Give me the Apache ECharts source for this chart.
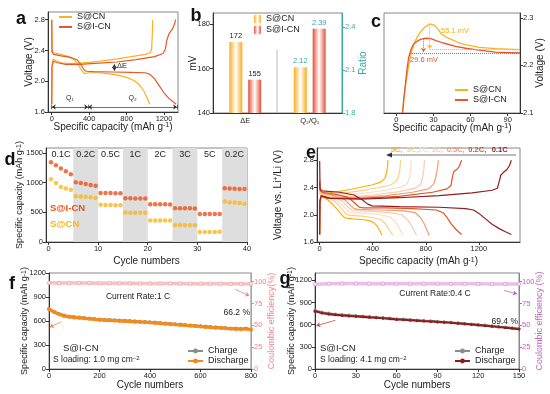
<!DOCTYPE html>
<html><head><meta charset="utf-8">
<script src="https://cdn.jsdelivr.net/npm/echarts@6/dist/echarts.min.js"></script>
<style>html,body{margin:0;padding:0;background:#fff}#c{width:550px;height:394px}</style>
</head><body><div id="c"></div>
<script>
const FONT = "'Liberation Sans', Arial, Helvetica, sans-serif";
const CN = '#F8B31C', ICN = '#E9562A';

// ---------- Panel a : charge/discharge profiles ----------
const aCNDischarge = [[0,2.8],[3,2.40],[20,2.37],[100,2.35],[180,2.32],[240,2.28],[280,2.22],[320,2.14],[350,2.10],[370,2.09],[400,2.11],[500,2.11],[600,2.10],[700,2.08],[800,2.05],[880,2.01],[940,1.95],[990,1.86],[1020,1.78],[1048,1.70]];
const aCNCharge = [[0,1.7],[3,2.2],[15,2.29],[40,2.27],[100,2.24],[200,2.23],[300,2.235],[400,2.245],[500,2.26],[600,2.275],[700,2.29],[800,2.31],[900,2.33],[1000,2.35],[1055,2.37],[1068,2.42],[1075,2.6],[1080,2.8]];
const aICNDischarge = [[0,2.8],[3,2.38],[20,2.35],[100,2.33],[200,2.31],[270,2.28],[310,2.22],[345,2.15],[370,2.13],[450,2.125],[650,2.12],[850,2.115],[1000,2.11],[1050,2.09],[1100,2.03],[1150,1.94],[1200,1.85],[1250,1.78],[1300,1.73],[1330,1.70]];
const aICNCharge = [[0,1.7],[3,2.2],[20,2.26],[60,2.24],[150,2.22],[300,2.22],[500,2.235],[700,2.25],[900,2.28],[1100,2.32],[1190,2.36],[1215,2.42],[1232,2.54],[1255,2.62],[1290,2.68],[1312,2.74],[1325,2.8]];
const aXTicks = [0,400,800,1200];
const aYTicks = [1.6,2.0,2.4,2.8];

// ---------- Panel b : bars ----------
const bCategories = ['ΔE','Q₂/Q₁'];
const bDeltaE = [172,155];     // S@CN, S@I-CN (mV)
const bRatio = [2.12,2.39];    // S@CN, S@I-CN
const bLeftTicks = [140,160,180];
const bRightTicks = [1.8,2.1,2.4];

// ---------- Panel c : nucleation overpotential ----------
const cCN = [[5,2.1],[7,2.15],[8.5,2.176],[10,2.2],[12.5,2.231],[15,2.25],[17.8,2.263],[20,2.272],[23,2.28],[27,2.287],[31,2.284],[34,2.275],[36.4,2.266],[40,2.26],[43,2.256],[50,2.248],[55,2.244],[67,2.238],[80,2.235],[100,2.233]];
const cICN = [[5,2.1],[6,2.13],[7.4,2.162],[8.5,2.19],[10,2.217],[12,2.235],[14,2.245],[17,2.251],[20,2.255],[24,2.257],[28,2.256],[32,2.252],[38,2.247],[48,2.24],[56,2.236],[64,2.233],[80,2.228],[100,2.226]];
const cXTicks = [0,30,60,90];
const cYTicks = [2.1,2.2,2.3];

// ---------- Panel d : rate capability ----------
const dICN = [1340,1290,1235,1190,1140, 1005,990,975,960,945, 825,825,822,820,818, 735,735,733,733,732, 635,635,633,633,632, 568,567,566,566,565, 470,470,470,470,472, 905,898,895,892,890];
const dCN  = [1055,990,925,900,880, 770,765,760,752,740, 625,622,620,618,617, 495,493,492,492,491, 360,362,362,363,362, 285,284,283,283,282, 168,168,168,170,172, 680,670,662,655,645];
const dRateBounds = [0,5,10,15,20,25,30,35,40];
const dRateLabels = ['0.1C','0.2C','0.5C','1C','2C','3C','5C','0.2C'];
const dXTicks = [0,10,20,30,40];
const dYTicks = [0,500,1000,1500];

// ---------- Panel e : profiles at different rates ----------
const eRates = ['0.1C','0.2C','0.5C','1C','2C','3C','5C'];
const e01Discharge = [[0,2.79],[3,2.38],[20,2.35],[150,2.33],[260,2.29],[320,2.22],[360,2.16],[395,2.13],[600,2.12],[900,2.11],[1100,2.09],[1160,2.07],[1200,2.02],[1250,1.94],[1300,1.86],[1350,1.80],[1400,1.75],[1445,1.71]];
const e01Charge = [[0,1.71],[2,2.2],[12,2.28],[80,2.24],[300,2.23],[600,2.25],[900,2.28],[1150,2.32],[1300,2.36],[1340,2.39],[1355,2.5],[1365,2.58],[1390,2.63],[1410,2.66],[1430,2.72],[1445,2.8]];
const e02Discharge = [[0,2.5],[3,2.36],[20,2.33],[120,2.30],[210,2.26],[260,2.18],[300,2.11],[330,2.10],[500,2.10],[700,2.09],[880,2.07],[930,2.03],[960,1.96],[990,1.87],[1030,1.78],[1070,1.71]];
const e02Charge = [[0,1.71],[2,2.2],[10,2.27],[60,2.24],[300,2.24],[600,2.27],[850,2.33],[960,2.38],[990,2.43],[1000,2.55],[1010,2.63],[1030,2.66],[1050,2.7],[1070,2.8]];
const e05Discharge = [[0,2.48],[3,2.35],[20,2.32],[110,2.28],[190,2.22],[230,2.14],[260,2.09],[290,2.08],[450,2.07],[620,2.06],[720,2.03],[760,1.96],[790,1.86],[810,1.77],[825,1.70]];
const e05Charge = [[0,1.71],[2,2.2],[10,2.27],[60,2.25],[250,2.25],[500,2.28],[700,2.33],[820,2.38],[860,2.45],[875,2.55],[885,2.65],[895,2.8]];
const e1Discharge = [[0,2.46],[3,2.34],[20,2.31],[100,2.27],[170,2.2],[210,2.12],[240,2.07],[270,2.06],[400,2.05],[530,2.03],[620,2.0],[660,1.93],[690,1.85],[712,1.77],[730,1.70]];
const e1Charge = [[0,1.71],[2,2.2],[10,2.27],[50,2.26],[200,2.26],[400,2.29],[600,2.34],[720,2.39],[760,2.44],[776,2.54],[785,2.66],[790,2.8]];
const e2Discharge = [[0,2.45],[3,2.33],[20,2.30],[90,2.25],[150,2.18],[190,2.10],[220,2.04],[250,2.03],[350,2.02],[460,2.0],[530,1.97],[565,1.91],[590,1.84],[612,1.76],[630,1.70]];
const e2Charge = [[0,1.71],[2,2.2],[10,2.28],[50,2.27],[150,2.28],[350,2.32],[500,2.36],[620,2.41],[660,2.46],[678,2.55],[686,2.67],[690,2.8]];
const e3Discharge = [[0,2.44],[3,2.32],[20,2.29],[80,2.24],[130,2.17],[170,2.08],[200,2.01],[230,1.99],[320,1.98],[400,1.96],[460,1.93],[490,1.88],[515,1.81],[535,1.75],[550,1.70]];
const e3Charge = [[0,1.71],[2,2.2],[10,2.29],[50,2.29],[150,2.31],[300,2.35],[450,2.40],[540,2.44],[575,2.49],[595,2.56],[605,2.67],[610,2.8]];
const e5Discharge = [[0,2.42],[3,2.30],[20,2.27],[60,2.22],[100,2.15],[140,2.06],[170,1.99],[195,1.95],[250,1.94],[320,1.93],[380,1.91],[410,1.88],[430,1.84],[450,1.78],[470,1.70]];
const e5Charge = [[0,1.71],[2,2.2],[10,2.3],[40,2.31],[100,2.33],[200,2.36],[300,2.4],[400,2.44],[460,2.48],[490,2.53],[505,2.62],[512,2.72],[515,2.8]];
const eXTicks = [0,400,800,1200];
const eYTicks = [1.6,2.0,2.4,2.8];

// ---------- Panel f : long cycling 1 C ----------
const fDischarge = [748,712,684,664,652,645,640,633,628,621,615,612,609,605,601,598,595,592,588,585,581,576,571,566,561,556,551,546,541,536,531,526,521,517,513,508,504,501,497,503,491];
const fCharge    = [760,722,694,674,662,655,650,643,638,631,625,622,619,615,611,608,605,602,598,595,591,586,581,576,571,566,561,556,551,546,541,536,531,527,523,518,514,511,507,514,500];
const fCE = [98.8,98.6,98.5,98.5,98.4,98.3,98.3,98.2,98.2,98.1,98.0,98.0,97.9,97.9,97.8,97.8,97.7,97.7,97.6,97.6,97.5];
const fStep = 20, fCEStep = 40;

// ---------- Panel g : long cycling 0.4 C ----------
const gDischarge = [782,758,744,734,726,719,713,707,700,694,687,680,672,667,661,655,649,644,638,632,626,619,611,603,595,587,578,569,560,551,541];
const gCharge    = [800,772,757,746,737,730,723,717,710,703,696,689,681,676,670,664,658,652,646,640,634,627,619,611,603,595,586,577,568,559,549];
const gCE = [97.2,97.8,97.9,97.9,97.8,97.8,97.8,97.7,97.7,97.7,97.6,97.6,97.6,97.5,97.5,97.5];
const gStep = 5, gCEStep = 10;

// ================= styles =================
const E_COLORS = ['#931D1D','#E2531E','#F29B78','#F9C9B3','#FCDCC4','#F9D27E','#F6B10F'];
const TEAL = '#3AA7A0', PINK = '#F08585', PURPLE = '#C45EC4';
const SUP = {sup:{fontSize:7, verticalAlign:'top', fontFamily:FONT}};

function baseAxis(){
  return {
    type:'value', nameLocation:'middle', nameMoveOverlap:false,
    axisLine:{show:true, onZero:false, lineStyle:{color:'#333', width:1}},
    axisTick:{show:true, length:3, lineStyle:{color:'#333'}},
    axisLabel:{fontSize:7.5, color:'#222', margin:3, fontFamily:FONT, formatter:v => String(v)},
    splitLine:{show:false},
    nameTextStyle:{fontSize:10, color:'#222', fontFamily:FONT, rich:SUP}
  };
}
function ax(extra){
  const b = baseAxis();
  for (const k in extra){
    if (b[k] && typeof b[k]==='object' && !Array.isArray(b[k]) && extra[k] && typeof extra[k]==='object' && !Array.isArray(extra[k]))
      b[k] = Object.assign({}, b[k], extra[k]);
    else b[k] = extra[k];
  }
  return b;
}
const f1 = v => v.toFixed(1);
const pairs = (step, arr) => arr.map((v,i)=>[i*step, v]);
function ln(name, xi, yi, data, color, width, extra){
  return Object.assign({type:'line', name, xAxisIndex:xi, yAxisIndex:yi, data, symbol:'none', showSymbol:false,
    lineStyle:{color, width}, itemStyle:{color}, silent:true, animation:false}, extra||{});
}
function grad(c){
  return {type:'linear', x:0, y:0, x2:1, y2:0, colorStops:[{offset:0,color:c},{offset:0.5,color:'#ffffff'},{offset:1,color:c}]};
}
function T(x,y,text,opts){
  return {type:'text', x, y, silent:true, z:100,
    style:Object.assign({text, fill:'#222', fontSize:9, fontFamily:FONT, align:'left', verticalAlign:'middle'}, opts||{})};
}
const legendFmt = n => n.replace(/_.*$/, '');

// ================= option =================
const grids = [
  {left:48, top:12, width:130, height:100},
  {left:213, top:13, width:129, height:100},
  {left:384, top:13, width:136, height:100},
  {left:46, top:148, width:201, height:94},
  {left:317, top:148, width:203, height:94},
  {left:49, top:273, width:202, height:96},
  {left:315, top:273, width:204, height:96}
].map(g => Object.assign({show:true, borderColor:'#888', borderWidth:1, containLabel:false}, g));

const xAxes = [
  ax({gridIndex:0, min:-40, max:1350, axisLabel:{customValues:aXTicks}, axisTick:{customValues:aXTicks},
      name:'Specific capacity (mAh g{sup|-1})', nameGap:10}),
  ax({gridIndex:1, type:'category', data:bCategories, axisTick:{show:false}, axisLabel:{margin:4, formatter:null}}),
  {gridIndex:1, type:'category', data:bCategories, show:false},
  ax({gridIndex:2, min:-10, max:100, axisLabel:{customValues:cXTicks}, axisTick:{customValues:cXTicks},
      name:'Specific capacity (mAh g{sup|-1})', nameGap:10}),
  ax({gridIndex:3, min:-0.5, max:40, axisLabel:{customValues:dXTicks}, axisTick:{customValues:dXTicks},
      name:'Cycle numbers', nameGap:14.5}),
  ax({gridIndex:4, min:-20, max:1510, axisLabel:{customValues:eXTicks}, axisTick:{customValues:eXTicks},
      name:'Specific capacity (mAh g{sup|-1})', nameGap:14.5}),
  ax({gridIndex:5, min:0, max:800, interval:200, name:'Cycle numbers', nameGap:11.5}),
  ax({gridIndex:6, min:0, max:150, interval:30, name:'Cycle numbers', nameGap:11.5})
];

const yAxes = [
  ax({gridIndex:0, min:1.6, max:2.9, axisLabel:{customValues:aYTicks, formatter:f1}, axisTick:{customValues:aYTicks},
      name:'Voltage (V)', nameGap:14, nameRotate:90}),
  ax({gridIndex:1, min:140, max:185, axisLabel:{customValues:bLeftTicks}, axisTick:{customValues:bLeftTicks},
      name:'mV', nameGap:15, nameRotate:90}),
  ax({gridIndex:1, position:'right', min:1.8, max:2.5, axisLabel:{customValues:bRightTicks, formatter:f1, color:TEAL},
      axisTick:{customValues:bRightTicks, lineStyle:{color:TEAL}}, axisLine:{lineStyle:{color:TEAL, width:1}},
      name:'Ratio', nameGap:16, nameRotate:90, nameTextStyle:{color:TEAL}}),
  ax({gridIndex:2, position:'right', min:2.1, max:2.31, axisLabel:{customValues:cYTicks, formatter:f1}, axisTick:{customValues:cYTicks},
      name:'Voltage (V)', nameGap:15, nameRotate:90}),
  ax({gridIndex:3, min:0, max:1580, axisLabel:{customValues:dYTicks}, axisTick:{customValues:dYTicks},
      name:'Specific capacity (mAh g{sup|-1})', nameGap:21.5, nameRotate:90, nameTextStyle:{fontSize:9}}),
  ax({gridIndex:4, min:1.6, max:2.98, axisLabel:{customValues:eYTicks, formatter:f1}, axisTick:{customValues:eYTicks},
      name:'Voltage vs. Li{sup|+}/Li (V)', nameGap:34, nameRotate:90}),
  ax({gridIndex:5, min:0, max:1200, interval:300, name:'Specific capacity (mAh g{sup|-1})', nameGap:19.5, nameRotate:90, nameTextStyle:{fontSize:9}}),
  ax({gridIndex:5, position:'right', min:0, max:110, axisLabel:{customValues:[0,25,50,75,100], color:PINK},
      axisTick:{customValues:[0,25,50,75,100], lineStyle:{color:PINK}}, axisLine:{lineStyle:{color:PINK, width:1}},
      name:'Coulombic efficiency(%)', nameGap:16, nameRotate:90, nameTextStyle:{color:PINK, fontSize:9}}),
  ax({gridIndex:6, min:0, max:1300, axisLabel:{customValues:[0,300,600,900,1200]}, axisTick:{customValues:[0,300,600,900,1200]},
      name:'Specific capacity (mAh g{sup|-1})', nameGap:19, nameRotate:90, nameTextStyle:{fontSize:9}}),
  ax({gridIndex:6, position:'right', min:0, max:110, axisLabel:{customValues:[0,25,50,75,100], color:PURPLE},
      axisTick:{customValues:[0,25,50,75,100], lineStyle:{color:PURPLE}}, axisLine:{lineStyle:{color:PURPLE, width:1}},
      name:'Coulombic efficiency (%)', nameGap:16.5, nameRotate:90, nameTextStyle:{color:PURPLE, fontSize:9}})
];

const series = [];
// ---- a
series.push(ln('S@CN_a',0,0,aCNDischarge,CN,1.2));
series.push(ln('S@CN_a',0,0,aCNCharge,CN,1.2));
series.push(ln('S@I-CN_a',0,0,aICNDischarge,ICN,1.2,{
  markLine:{silent:true, symbol:['none','none'], symbolSize:4, animation:false,
    lineStyle:{color:'#333', width:0.7, type:'solid'},
    label:{show:false},
    data:[
      [{coord:[0,1.665], symbol:'arrow', label:{show:true, position:'middle', formatter:'Q₁', fontSize:7, color:'#333', backgroundColor:'#fff', padding:[0,1]}}, {coord:[390,1.665], symbol:'arrow'}],
      [{coord:[390,1.665], symbol:'arrow', label:{show:true, position:'middle', formatter:'Q₂', fontSize:7, color:'#333', backgroundColor:'#fff', padding:[0,1]}}, {coord:[1340,1.665], symbol:'arrow'}],
      [{coord:[0,1.635]},{coord:[0,1.695]}],
      [{coord:[390,1.635]},{coord:[390,1.695]}],
      [{coord:[1340,1.635]},{coord:[1340,1.695]}],
      [{coord:[670,2.135], symbol:'arrow'},{coord:[670,2.222], symbol:'arrow'}]
    ]}
}));
series.push(ln('S@I-CN_a',0,0,aICNCharge,ICN,1.2));
// ---- b
function barS(name, xi, yi, data, color, labColor){
  return {type:'bar', name, xAxisIndex:xi, yAxisIndex:yi, data, barWidth:13, barGap:'45%', silent:true,
    itemStyle:{color:grad(color)},
    label:{show:true, position:'top', distance:2, fontSize:7.5, color:labColor, fontFamily:FONT}};
}
series.push(barS('S@CN_b',1,1,[bDeltaE[0],'-'],'#F7AE22','#222'));
series.push(barS('S@I-CN_b',1,1,[bDeltaE[1],'-'],'#E4503A','#222'));
series.push(barS('S@CN_b',2,2,['-',bRatio[0]],'#F7AE22',TEAL));
series.push(barS('S@I-CN_b',2,2,['-',bRatio[1]],'#E4503A',TEAL));
// ---- c
series.push(ln('S@CN_c',3,3,cCN,CN,1.3,{z:3,
  markLine:{silent:true, symbol:['none','none'], symbolSize:4, animation:false,
    lineStyle:{color:CN, width:1, type:'dotted'}, label:{show:false},
    data:[[{coord:[27,2.233]},{coord:[100,2.233]}],[{coord:[27,2.286]},{coord:[27,2.235], symbol:'arrow'}]]}}));
series.push(ln('S@I-CN_c',3,3,cICN,ICN,1.3,{
  markLine:{silent:true, symbol:['none','none'], symbolSize:4, animation:false,
    lineStyle:{color:ICN, width:1, type:'dotted'}, label:{show:false},
    data:[[{coord:[11,2.226]},{coord:[100,2.226]}],[{coord:[22,2.256]},{coord:[22,2.228], symbol:'arrow'}]]}}));
// ---- d
const dAreas = dRateLabels.map((lab,i)=>[
  {xAxis:dRateBounds[i], name:lab, itemStyle:{color: i%2 ? '#DEDEDE' : 'rgba(255,255,255,0)'}},
  {xAxis:dRateBounds[i+1]}]);
series.push({type:'scatter', name:'S@I-CN_d', xAxisIndex:4, yAxisIndex:4, silent:true,
  data:dICN.map((v,i)=>[i+0.5, v]), symbolSize:4.5, itemStyle:{color:'#E8521C'},
  markArea:{silent:true, label:{show:true, position:'insideTop', distance:2, fontSize:9, color:'#222', fontFamily:FONT}, data:dAreas}});
series.push({type:'scatter', name:'S@CN_d', xAxisIndex:4, yAxisIndex:4, silent:true,
  data:dCN.map((v,i)=>[i+0.5, v]), symbolSize:4.5, itemStyle:{color:'#F9B520'}});
// ---- e
const eDis = [e01Discharge,e02Discharge,e05Discharge,e1Discharge,e2Discharge,e3Discharge,e5Discharge];
const eChg = [e01Charge,e02Charge,e05Charge,e1Charge,e2Charge,e3Charge,e5Charge];
for (let i=eRates.length-1;i>=0;i--){
  series.push(ln('e'+eRates[i]+'d',5,5,eDis[i],E_COLORS[i],1.2));
  series.push(ln('e'+eRates[i]+'c',5,5,eChg[i],E_COLORS[i],1.2));
}
// ---- f
series.push({type:'line', name:'Charge_f', xAxisIndex:6, yAxisIndex:6, data:pairs(fStep,fCharge), silent:true,
  symbol:'circle', symbolSize:3, showSymbol:true, lineStyle:{color:'#8C8C8C', width:1.5}, itemStyle:{color:'#8C8C8C'}});
series.push({type:'line', name:'Discharge_f', xAxisIndex:6, yAxisIndex:6, data:pairs(fStep,fDischarge), silent:true,
  symbol:'circle', symbolSize:4, showSymbol:true, lineStyle:{color:'#F28A1E', width:3.2}, itemStyle:{color:'#F28A1E'},
  markLine:{silent:true, symbol:['none','arrow'], symbolSize:4, animation:false, label:{show:false},
    lineStyle:{color:'#F08A4B', width:0.8, type:'solid', curveness:0.3},
    data:[[{coord:[50,590]},{coord:[3,524]}]]}});
series.push({type:'line', name:'CE_f', xAxisIndex:6, yAxisIndex:7, data:pairs(fCEStep,fCE), silent:true,
  symbol:'circle', symbolSize:3.5, showSymbol:true, lineStyle:{color:'#F9C2C2', width:3.5}, itemStyle:{color:'#FDE6E6', borderColor:'#F3A0A0', borderWidth:0.8},
  markLine:{silent:true, symbol:['none','arrow'], symbolSize:4, animation:false, label:{show:false},
    lineStyle:{color:PINK, width:0.8, type:'solid', curveness:-0.3},
    data:[[{coord:[737,91.3]},{coord:[793,84]}]]}});
// ---- g
series.push({type:'line', name:'Charge_g', xAxisIndex:7, yAxisIndex:8, data:pairs(gStep,gCharge), silent:true,
  symbol:'circle', symbolSize:3, showSymbol:true, lineStyle:{color:'#8C8C8C', width:1.5}, itemStyle:{color:'#8C8C8C'}});
series.push({type:'line', name:'Discharge_g', xAxisIndex:7, yAxisIndex:8, data:pairs(gStep,gDischarge), silent:true,
  symbol:'circle', symbolSize:3, showSymbol:true, lineStyle:{color:'#8B1C1C', width:2.2}, itemStyle:{color:'#8B1C1C'},
  markLine:{silent:true, symbol:['none','arrow'], symbolSize:4, animation:false, label:{show:false},
    lineStyle:{color:'#C0504D', width:0.8, type:'solid', curveness:0.3},
    data:[[{coord:[15,660]},{coord:[1,585]}]]}});
series.push({type:'line', name:'CE_g', xAxisIndex:7, yAxisIndex:9, data:pairs(gCEStep,gCE), silent:true,
  symbol:'circle', symbolSize:3.5, showSymbol:true, lineStyle:{color:'#EDBDED', width:3.5}, itemStyle:{color:'#FBE8FB', borderColor:'#DB95DB', borderWidth:0.8},
  markLine:{silent:true, symbol:['none','arrow'], symbolSize:4, animation:false, label:{show:false},
    lineStyle:{color:PURPLE, width:0.8, type:'solid', curveness:-0.3},
    data:[[{coord:[139,90]},{coord:[148.5,86]}]]}});

const legTxt = {fontSize:9, color:'#222', fontFamily:FONT, lineHeight:10};
const lineIcon = n => ({name:n, icon:'rect'});
const legends = [
  {data:['S@CN_a','S@I-CN_a'].map(lineIcon), left:59, top:12, orient:'vertical', itemWidth:13, itemHeight:2, itemGap:0, padding:0, formatter:legendFmt, textStyle:legTxt, selectedMode:false},
  {data:['S@CN_b','S@I-CN_b'], left:254, top:14, orient:'vertical', itemWidth:7, itemHeight:9, itemGap:1, padding:0, formatter:legendFmt, textStyle:legTxt, selectedMode:false},
  {data:['S@CN_c','S@I-CN_c'].map(lineIcon), left:455, top:85, orient:'vertical', itemWidth:13, itemHeight:2, itemGap:0, padding:0, formatter:legendFmt, textStyle:legTxt, selectedMode:false},
  {data:['Charge_f','Discharge_f'], left:187, top:346, orient:'vertical', itemWidth:15, itemHeight:6, itemGap:0, padding:0, formatter:legendFmt, textStyle:legTxt, selectedMode:false},
  {data:['Charge_g','Discharge_g'], left:454, top:346, orient:'vertical', itemWidth:15, itemHeight:6, itemGap:0, padding:0, formatter:legendFmt, textStyle:legTxt, selectedMode:false}
];

const LET = {fontSize:18, fontWeight:'bold', align:'center', fill:'#111'};
const graphic = [
  T(21,19,'a',LET), T(196,16,'b',LET), T(376,22,'c',LET), T(10,160,'d',LET),
  T(311,153,'e',LET), T(12,284,'f',LET), T(285,279,'g',LET),
  T(117,66,'ΔE',{fontSize:7.5}),
  T(441,31,'55.1 mV',{fontSize:7.5, fill:'#F5AE1B'}),
  T(410,60,'29.6 mV',{fontSize:7.5, fill:ICN}),
  {type:'line', silent:true, shape:{x1:277,y1:50,x2:277,y2:113}, style:{stroke:'#aaa', lineWidth:0.8}},
  T(50,208,'S@I-CN',{fontSize:9.5, fontWeight:'bold', fill:'#E8521C'}),
  T(50,224,'S@CN',{fontSize:9.5, fontWeight:'bold', fill:'#F9B520'}),
  {type:'line', silent:true, shape:{x1:516,y1:155,x2:389,y2:155}, style:{stroke:'#777', lineWidth:1}},
  {type:'polygon', silent:true, shape:{points:[[386,155],[392,152.6],[392,157.4]]}, style:{fill:'#333'}},
  T(390.7,149.5,'5C,',{fontSize:7.5, fontWeight:'bold', fill:E_COLORS[6]}),
  T(406.7,149.5,'3C,',{fontSize:7.5, fontWeight:'bold', fill:E_COLORS[5]}),
  T(418.3,149.5,'2C,',{fontSize:7.5, fontWeight:'bold', fill:E_COLORS[4]}),
  T(431.7,149.5,'1C,',{fontSize:7.5, fontWeight:'bold', fill:E_COLORS[3]}),
  T(446.7,149.5,'0.5C,',{fontSize:7.5, fontWeight:'bold', fill:E_COLORS[2]}),
  T(468.3,149.5,'0.2C,',{fontSize:7.5, fontWeight:'bold', fill:E_COLORS[1]}),
  T(491.7,149.5,'0.1C',{fontSize:7.5, fontWeight:'bold', fill:E_COLORS[0]}),
  T(138,297,'Current Rate:1 C',{fontSize:8.5, align:'center'}),
  T(250,313,'66.2 %',{fontSize:8.5, align:'right'}),
  T(63,348,'S@I-CN',{fontSize:9.5}),
  T(53,360,'S loading: 1.0 mg cm{sup|−2}',{fontSize:8.5, rich:{sup:{fontSize:6, verticalAlign:'top', fontFamily:FONT}}}),
  T(435,294,'Current Rate:0.4 C',{fontSize:8.5, align:'center'}),
  T(518,322,'69.4 %',{fontSize:8.5, align:'right'}),
  T(320,348,'S@I-CN',{fontSize:9.5}),
  T(320,360,'S loading: 4.1 mg cm{sup|−2}',{fontSize:8.5, rich:{sup:{fontSize:6, verticalAlign:'top', fontFamily:FONT}}})
];

const chart = echarts.init(document.getElementById('c'), null, {renderer:'canvas'});
chart.setOption({
  animation:false,
  backgroundColor:'#fff',
  textStyle:{fontFamily:FONT},
  grid:grids, xAxis:xAxes, yAxis:yAxes, legend:legends, series, graphic
});
</script></body></html>
